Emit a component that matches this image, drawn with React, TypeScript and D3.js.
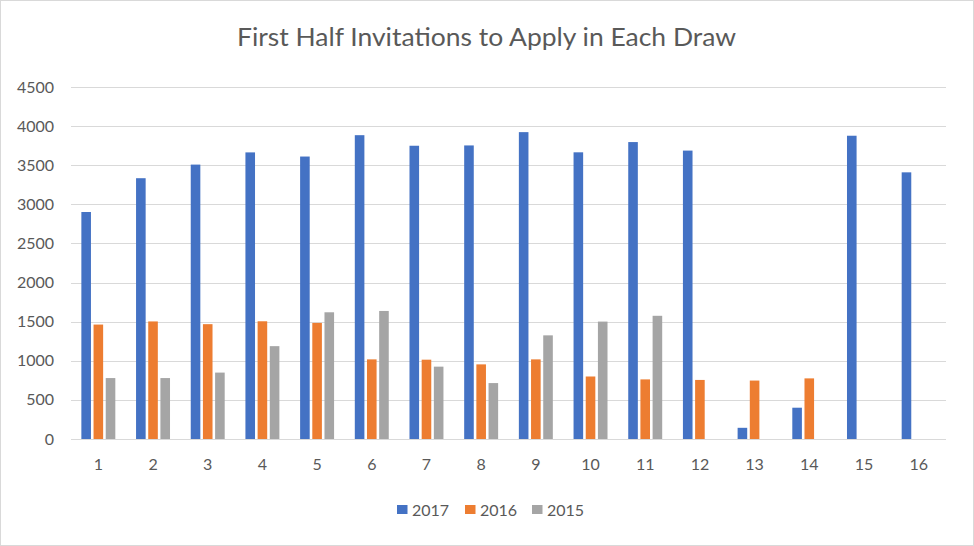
import * as d3 from "d3";

const draws = ["1", "2", "3", "4", "5", "6", "7", "8", "9", "10", "11", "12", "13", "14", "15", "16"];
const years = ["2017", "2016", "2015"];
const values2017 = [2902, 3334, 3508, 3664, 3611, 3884, 3749, 3753, 3923, 3665, 3796, 3687, 143, 400, 3877, 3409];
const values2016 = [1463, 1503, 1468, 1505, 1484, 1018, 1014, 954, 1018, 799, 762, 755, 747, 775, null, null];
const values2015 = [779, 779, 849, 1187, 1620, 1637, 925, 715, 1325, 1501, 1575, null, null, null, null, null];
const yTicks = [0, 500, 1000, 1500, 2000, 2500, 3000, 3500, 4000, 4500];

const colors = ["#4472C4", "#ED7D31", "#A5A5A5"];
const seriesValues = [values2017, values2016, values2015];

const W = 974;
const H = 546;
const plot = { left: 71, right: 946, top: 87, bottom: 439 };
const font = "Lato, 'Noto Sans', sans-serif";
const textColor = "#595959";

export default function App() {
  const x = d3.scaleBand<string>().domain(draws).range([plot.left, plot.right]);
  const y = d3.scaleLinear().domain([0, 4500]).range([plot.bottom, plot.top]);

  // three bars per draw, spread with a small gap between them
  const barW = x.bandwidth() / 5.7;
  const gap = barW * 0.27;
  const groupW = barW * 3 + gap * 2;

  const legendX = [397, 465, 532];

  return (
    <div style={{ position: "fixed", left: 0, top: 0 }}>
      <svg width={W} height={H} style={{ display: "block", background: "#fff" }}>
        <rect x={0.5} y={0.5} width={W - 1} height={H - 1} fill="#fff" stroke="#D9D9D9" />
        <text
          x={237}
          y={46}
          textLength={499}
          lengthAdjust="spacingAndGlyphs"
          fontFamily={font}
          fontSize={25}
          fill={textColor}
        >
          First Half Invitations to Apply in Each Draw
        </text>

        {yTicks.map((t) => (
          <g key={t}>
            <line
              x1={plot.left}
              x2={plot.right}
              y1={Math.round(y(t)) + 0.5}
              y2={Math.round(y(t)) + 0.5}
              stroke="#D9D9D9"
              strokeWidth={1.2}
            />
            <text
              x={54}
              y={y(t) + 5.5}
              textAnchor="end"
              fontFamily={font}
              fontSize={16}
              fill={textColor}
            >
              {t}
            </text>
          </g>
        ))}

        {seriesValues.map((vals, si) =>
          vals.map((v, i) =>
            v == null ? null : (
              <rect
                key={`${si}-${i}`}
                x={(x(draws[i]) ?? 0) + (x.bandwidth() - groupW) / 2 + si * (barW + gap)}
                y={y(v)}
                width={barW}
                height={y(0) - y(v)}
                fill={colors[si]}
              />
            ),
          ),
        )}

        {draws.map((d) => (
          <text
            key={d}
            x={(x(d) ?? 0) + x.bandwidth() / 2}
            y={470}
            textAnchor="middle"
            fontFamily={font}
            fontSize={16}
            fill={textColor}
          >
            {d}
          </text>
        ))}

        {years.map((yr, i) => (
          <g key={yr}>
            <rect x={legendX[i]} y={505} width={10.5} height={9} fill={colors[i]} />
            <text
              x={legendX[i] + 15}
              y={516}
              fontFamily={font}
              fontSize={16}
              fill={textColor}
            >
              {yr}
            </text>
          </g>
        ))}
      </svg>
    </div>
  );
}
